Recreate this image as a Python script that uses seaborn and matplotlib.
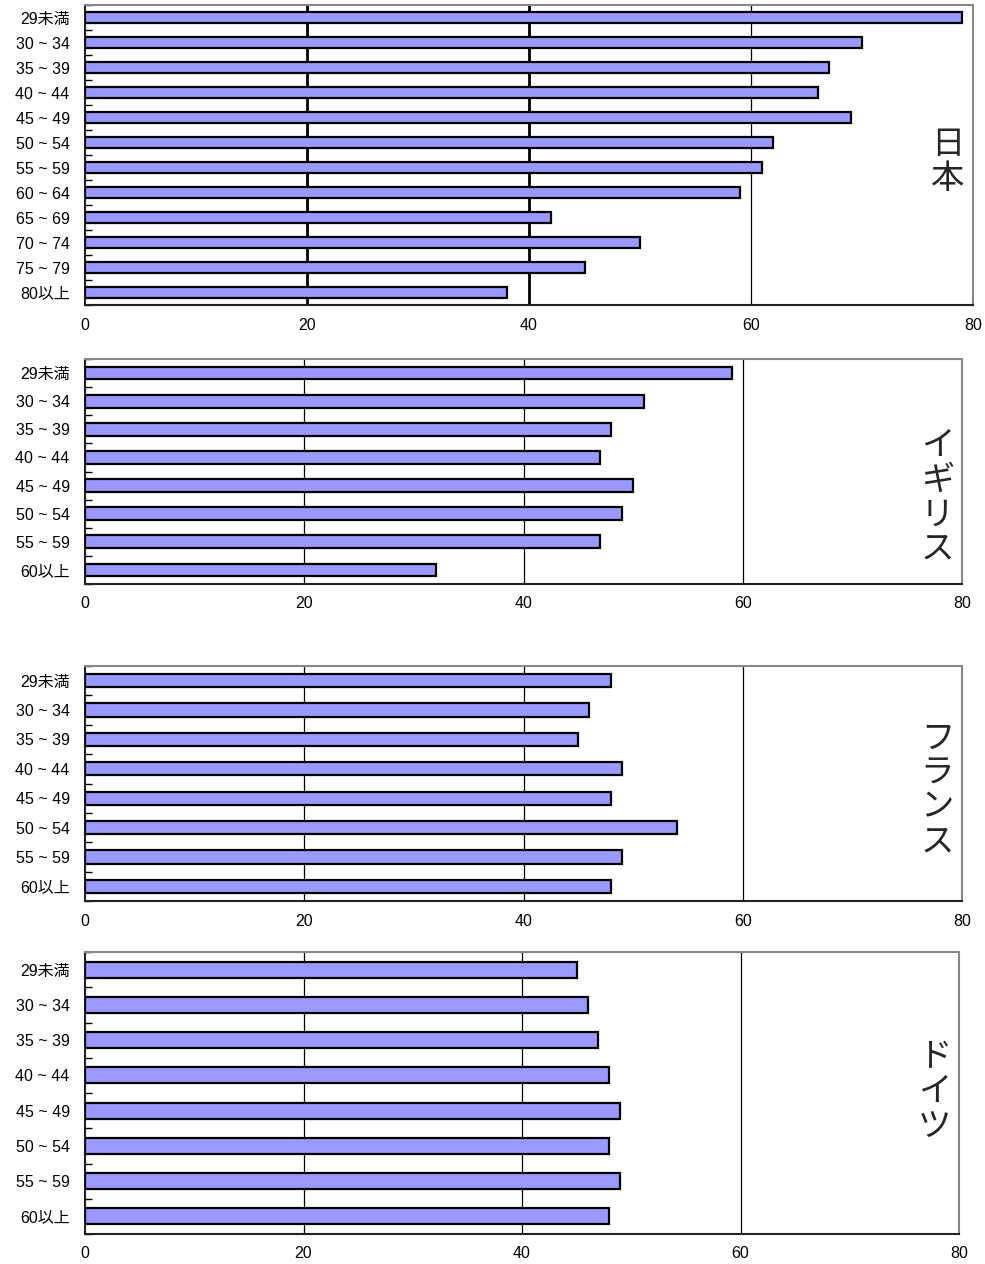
import numpy as np
import pandas as pd
import matplotlib
matplotlib.use("Agg")
import matplotlib.pyplot as plt
import seaborn as sns

sns.set_theme(style="white")
plt.rcParams["font.family"] = ["Liberation Sans", "Noto Sans CJK JP", "DejaVu Sans"]

# Age groups
ages_jp = ["29未満", "30 ~ 34", "35 ~ 39", "40 ~ 44", "45 ~ 49", "50 ~ 54",
           "55 ~ 59", "60 ~ 64", "65 ~ 69", "70 ~ 74", "75 ~ 79", "80以上"]
ages_eu = ["29未満", "30 ~ 34", "35 ~ 39", "40 ~ 44", "45 ~ 49", "50 ~ 54",
           "55 ~ 59", "60以上"]

# Values by country
japan = [79, 70, 67, 66, 69, 62, 61, 59, 42, 50, 45, 38]
uk = [59, 51, 48, 47, 50, 49, 47, 32]
france = [48, 46, 45, 49, 48, 54, 49, 48]
germany = [45, 46, 47, 48, 49, 48, 49, 48]

countries = ["日本", "イギリス", "フランス", "ドイツ"]
x_ticks = [0, 20, 40, 60, 80]

W, H = 985, 1264
fig = plt.figure(figsize=(W / 100, H / 100), dpi=100)

# panel boxes in pixels: left, right, top, bottom
boxes = [(85, 973, 5, 305), (85, 962, 359, 584), (85, 962, 666, 901), (85, 959, 952, 1234)]
series = [(ages_jp, japan), (ages_eu, uk), (ages_eu, france), (ages_eu, germany)]
label_y = [0.478, 0.384, 0.472, 0.505]

for i, ((l, r, t, b), (cats, vals), name) in enumerate(zip(boxes, series, countries)):
    ax = fig.add_axes([l / W, 1 - b / H, (r - l) / W, (b - t) / H])
    df = pd.DataFrame({"age": cats, "value": vals})
    sns.barplot(data=df, x="value", y="age", orient="h", ax=ax, width=0.45,
                color="#9999FF", saturation=1, edgecolor="black", linewidth=1.6,
                zorder=3)
    n = len(cats)
    ax.set_xlim(0, 80)
    ax.set_ylim(n - 0.5, -0.5)
    ax.set_xlabel("")
    ax.set_ylabel("")
    ax.set_xticks(x_ticks)
    ax.set_xticklabels([str(v) for v in x_ticks])
    ax.tick_params(axis="x", length=0, pad=9, labelsize=11.5, colors="black")
    ax.tick_params(axis="y", which="major", length=0, pad=11, labelsize=11.5,
                   colors="black")
    ax.set_yticks(np.arange(-0.5, n, 1.0), minor=True)
    ax.tick_params(axis="y", which="minor", direction="in", length=5, width=1,
                   color="black", left=True)
    # vertical grid lines
    for xv in [20, 40, 60]:
        lw = 2.0 if (i == 0 and xv in (20, 40)) else 0.9
        ax.axvline(xv, color="black", lw=lw, zorder=1)
    ax.grid(False)
    for side in ["top", "right"]:
        ax.spines[side].set_color("#888888")
        ax.spines[side].set_linewidth(1.5)
    for side in ["left", "bottom"]:
        ax.spines[side].set_color("#222222")
        ax.spines[side].set_linewidth(1.5)
    ax.text(0.972, label_y[i], "\n".join(name), transform=ax.transAxes,
            ha="center", va="center", fontsize=24, linespacing=0.98,
            family=["Noto Sans CJK JP"])

fig.savefig("out.png", dpi=100, facecolor="white")
